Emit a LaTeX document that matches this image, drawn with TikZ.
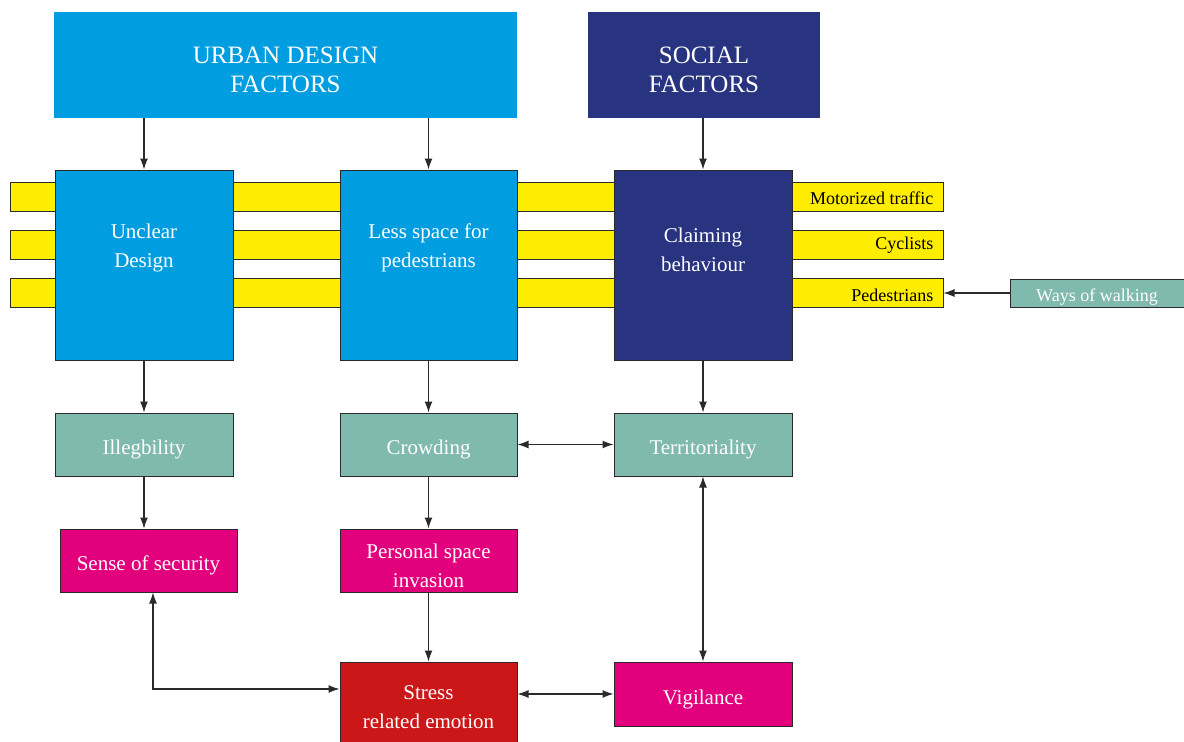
\documentclass[tikz,border=0pt]{standalone}
\usepackage{fontspec}
\setmainfont{Liberation Serif}
\usetikzlibrary{arrows.meta}
\definecolor{lblue}{HTML}{009EE0}
\definecolor{navy}{HTML}{283480}
\definecolor{yel}{HTML}{FFED00}
\definecolor{teal2}{HTML}{80B9AD}
\definecolor{mag}{HTML}{E3007D}
\definecolor{redd}{HTML}{CC1719}
\definecolor{edge}{HTML}{2A2A2A}
\tikzset{
  box/.style={draw=edge, line width=1pt, inner sep=0pt},
  topbox/.style={draw=none, inner sep=0pt},
  band/.style={draw=edge, line width=1pt, fill=yel, inner sep=0pt, minimum width=933pt, minimum height=29pt},
  bandlabel/.style={inner sep=0pt, anchor=east, font=\fontsize{18}{20}\selectfont},
  lbl/.style={inner sep=0pt, text=white, align=center, font=\fontsize{21}{29}\selectfont},
  ttl/.style={inner sep=0pt, text=white, align=center, font=\fontsize{25}{29}\selectfont},
  txt/.style={label={[lbl,yshift=-5pt]center:{#1}}},
  arr/.style={draw=edge, line width=1.1pt, -{Latex[length=11pt,width=8pt]}},
  darr/.style={draw=edge, line width=1.1pt, {Latex[length=11pt,width=8pt]}-{Latex[length=11pt,width=8pt]}}
}
\begin{document}
\begin{tikzpicture}[x=1pt,y=-1pt]
\useasboundingbox (0,0) rectangle (1184,742);
% bands
\node[band] (b1) at (476.5,196.5) {};
\node[band] (b2) at (476.5,244.5) {};
\node[band] (b3) at (476.5,292.5) {};
\node[bandlabel] (l1) at ([xshift=-10pt,yshift=-2pt]b1.east) {Motorized traffic};
\node[bandlabel] (l2) at ([xshift=-10pt,yshift=-1pt]b2.east) {Cyclists};
\node[bandlabel] (l3) at ([xshift=-10pt,yshift=-2.5pt]b3.east) {Pedestrians};
% top
\node[topbox, fill=lblue, minimum width=463pt, minimum height=106pt] (urban) at (285.5,65) {};
\node[topbox, fill=navy, minimum width=232pt, minimum height=106pt] (social) at (704,65) {};
\node[ttl] (tt1) at (285.5,70) {URBAN DESIGN\\FACTORS};
\node[ttl] (tt2) at (704,70) {SOCIAL\\FACTORS};
% tall boxes
\node[box, fill=lblue, minimum width=178pt, minimum height=190pt] (unclear) at (144,265) {};
\node[box, fill=lblue, minimum width=177pt, minimum height=190pt] (less) at (428.5,265) {};
\node[box, fill=navy, minimum width=178pt, minimum height=190pt] (claim) at (703,265) {};
\node[lbl] (tu) at (144,248) {Unclear\\Design};
\node[lbl] (tl) at (428.5,248) {Less space for\\pedestrians};
\node[lbl] (tc) at (703,250) {Claiming\\behaviour};
% ways of walking
\node[box, fill=teal2, minimum width=180pt, minimum height=28pt] (ways) at (1100,293) {};
\node[lbl, font=\fontsize{18}{20}\selectfont] (tw) at (1097,297) {Ways of walking};
% mid boxes
\node[box, fill=teal2, minimum width=178pt, minimum height=63pt, txt={Illegbility}] (illeg) at (144,444.5) {};
\node[box, fill=teal2, minimum width=177pt, minimum height=63pt, txt={Crowding}] (crowd) at (428.5,444.5) {};
\node[box, fill=teal2, minimum width=178pt, minimum height=63pt, txt={Territoriality}] (terr) at (703,444.5) {};
\node[box, fill=mag, minimum width=177pt, minimum height=63pt, txt={Sense of security}] (sense) at (148.5,560.5) {};
\node[box, fill=mag, minimum width=177pt, minimum height=63pt, txt={Personal space\\invasion}] (pers) at (428.5,560.5) {};
\node[box, fill=redd, minimum width=177pt, minimum height=83pt] (stress) at (428.5,703.5) {};
\node[lbl] (ts) at (428.5,707) {Stress\\related emotion};
\node[box, fill=mag, minimum width=178pt, minimum height=64pt, txt={Vigilance}] (vigil) at (703,694) {};
% arrows
\draw[arr] (urban.south -| unclear) -- (unclear.north);
\draw[arr] (urban.south -| less) -- (less.north);
\draw[arr] (social.south -| claim) -- (claim.north);
\draw[arr] (unclear.south) -- (illeg.north);
\draw[arr] (less.south) -- (crowd.north);
\draw[arr] (claim.south) -- (terr.north);
\draw[arr] (illeg.south) -- (illeg.south |- sense.north);
\draw[arr] (crowd.south) -- (pers.north);
\draw[arr] (pers.south) -- (stress.north);
\draw[arr] (ways.west) -- (ways.west -| b3.east);
\draw[darr] (crowd.east) -- (terr.west);
\draw[darr] (terr.south) -- (vigil.north);
\draw[darr] (stress.east |- vigil) -- (vigil.west);
\draw[darr] ([xshift=4.5pt]sense.south) |- ([yshift=14.5pt]stress.west);
\end{tikzpicture}
\end{document}
